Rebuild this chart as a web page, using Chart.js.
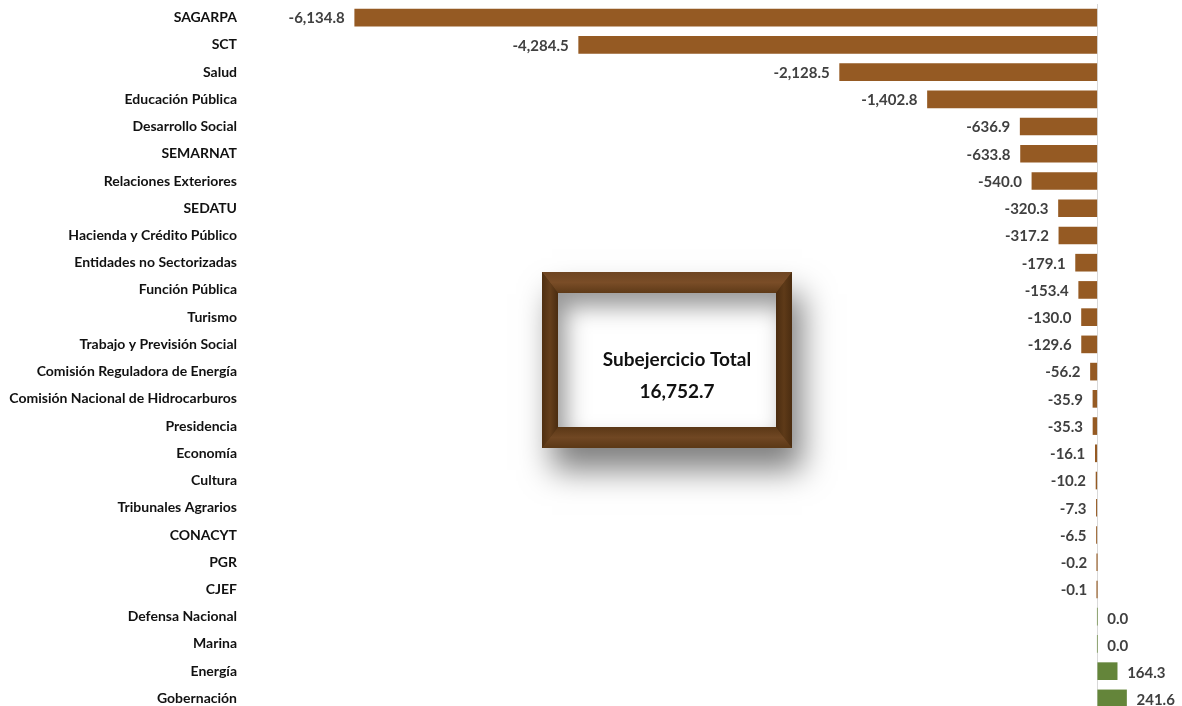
<!DOCTYPE html>
<html>
<head>
<meta charset="utf-8">
<script src="https://cdn.jsdelivr.net/npm/chart.js@4/dist/chart.umd.min.js"></script>
<style>
  html, body { margin: 0; padding: 0; background: #fff; overflow: hidden; }
  canvas { display: block; }
</style>
</head>
<body>
<canvas id="grafico" width="1182" height="712"></canvas>
<script>
document.addEventListener("DOMContentLoaded", function () {

  // === DATOS ===
  const dependencias = [
    "SAGARPA", "SCT", "Salud", "Educación Pública", "Desarrollo Social", "SEMARNAT",
    "Relaciones Exteriores", "SEDATU", "Hacienda y Crédito Público", "Entidades no Sectorizadas",
    "Función Pública", "Turismo", "Trabajo y Previsión Social", "Comisión Reguladora de Energía",
    "Comisión Nacional de Hidrocarburos", "Presidencia", "Economía", "Cultura", "Tribunales Agrarios",
    "CONACYT", "PGR", "CJEF", "Defensa Nacional", "Marina", "Energía", "Gobernación"
  ];
  const variacion = [
    -6134.8, -4284.5, -2128.5, -1402.8, -636.9, -633.8,
    -540.0, -320.3, -317.2, -179.1,
    -153.4, -130.0, -129.6, -56.2,
    -35.9, -35.3, -16.1, -10.2, -7.3,
    -6.5, -0.2, -0.1, 0.0, 0.0, 164.3, 241.6
  ];
  const totalTitulo = "Subejercicio Total";
  const totalValor = "16,752.7";

  const CAFE = "#955a23";
  const VERDE = "#64853a";
  const fuente = "Lato, 'Open Sans', sans-serif";

  const fmt = v => v.toLocaleString("en-US", { minimumFractionDigits: 1, maximumFractionDigits: 1 });

  // === ETIQUETAS DE VALOR ===
  const etiquetas = {
    id: "etiquetas",
    afterDatasetsDraw(chart) {
      const ctx = chart.ctx;
      const meta = chart.getDatasetMeta(0);
      ctx.save();
      ctx.font = "bold 15px " + fuente;
      ctx.fillStyle = "#404040";
      ctx.textBaseline = "middle";
      meta.data.forEach((bar, i) => {
        const v = variacion[i];
        if (v < 0) {
          ctx.textAlign = "right";
          ctx.fillText(fmt(v), bar.x - 10, bar.y + 1);
        } else {
          ctx.textAlign = "left";
          ctx.fillText(fmt(v), bar.x + 10, bar.y + 2);
        }
      });
      ctx.restore();
    }
  };

  // === MARCO CON EL TOTAL ===
  const marco = {
    id: "marco",
    afterDraw(chart) {
      const ctx = chart.ctx;
      const x0 = 542, y0 = 272, x1 = 792, y1 = 448;
      const bx = 16, by = 21;
      const ix0 = x0 + bx, iy0 = y0 + by, ix1 = x1 - bx, iy1 = y1 - by;
      ctx.save();

      // sombra exterior
      ctx.shadowColor = "rgba(0,0,0,0.5)";
      ctx.shadowBlur = 30;
      ctx.shadowOffsetX = 10;
      ctx.shadowOffsetY = 22;
      ctx.fillStyle = "#5a3714";
      ctx.fillRect(x0, y0, x1 - x0, y1 - y0);
      ctx.shadowColor = "transparent";

      function lado(pts, g) {
        ctx.beginPath();
        ctx.moveTo(pts[0][0], pts[0][1]);
        for (let k = 1; k < pts.length; k++) ctx.lineTo(pts[k][0], pts[k][1]);
        ctx.closePath();
        ctx.fillStyle = g;
        ctx.fill();
      }
      let g = ctx.createLinearGradient(0, y0, 0, iy0);
      g.addColorStop(0, "#6e4522"); g.addColorStop(0.5, "#7a4d27"); g.addColorStop(1, "#5e3a18");
      lado([[x0, y0], [x1, y0], [ix1, iy0], [ix0, iy0]], g);
      g = ctx.createLinearGradient(0, iy1, 0, y1);
      g.addColorStop(0, "#5a3716"); g.addColorStop(0.5, "#704723"); g.addColorStop(1, "#5b3816");
      lado([[ix0, iy1], [ix1, iy1], [x1, y1], [x0, y1]], g);
      g = ctx.createLinearGradient(x0, 0, ix0, 0);
      g.addColorStop(0, "#4f2f11"); g.addColorStop(0.5, "#653f1c"); g.addColorStop(1, "#4a2c10");
      lado([[x0, y0], [ix0, iy0], [ix0, iy1], [x0, y1]], g);
      g = ctx.createLinearGradient(ix1, 0, x1, 0);
      g.addColorStop(0, "#4a2c10"); g.addColorStop(0.5, "#5e3a18"); g.addColorStop(1, "#4a2c10");
      lado([[x1, y0], [x1, y1], [ix1, iy1], [ix1, iy0]], g);

      // interior blanco con sombra interna
      ctx.fillStyle = "#ffffff";
      ctx.fillRect(ix0, iy0, ix1 - ix0, iy1 - iy0);
      ctx.beginPath();
      ctx.rect(ix0, iy0, ix1 - ix0, iy1 - iy0);
      ctx.clip();
      ctx.shadowColor = "rgba(0,0,0,0.4)";
      ctx.shadowBlur = 22;
      ctx.shadowOffsetX = 8;
      ctx.shadowOffsetY = 14;
      ctx.beginPath();
      ctx.rect(ix0 - 80, iy0 - 80, ix1 - ix0 + 160, iy1 - iy0 + 160);
      ctx.rect(ix0, iy0, ix1 - ix0, iy1 - iy0);
      ctx.fillStyle = "#000";
      ctx.fill("evenodd");
      ctx.restore();

      // texto
      ctx.save();
      ctx.font = "bold 19px " + fuente;
      ctx.fillStyle = "#111";
      ctx.textAlign = "center";
      ctx.textBaseline = "middle";
      ctx.fillText(totalTitulo, 677, 360);
      ctx.fillText(totalValor, 677, 392);
      ctx.restore();
    }
  };

  new Chart(document.getElementById("grafico").getContext("2d"), {
    type: "bar",
    data: {
      labels: dependencias,
      datasets: [{
        data: variacion,
        backgroundColor: variacion.map(v => v < 0 ? CAFE : VERDE),
        borderWidth: 0,
        barThickness: 17
      }]
    },
    options: {
      indexAxis: "y",
      responsive: false,
      animation: false,
      layout: { padding: { left: 0, right: 0, top: 4, bottom: 0 } },
      plugins: {
        legend: { display: false },
        tooltip: { enabled: false }
      },
      scales: {
        x: {
          min: -7000,
          max: 700,
          afterFit: s => { s.height = 0; s.paddingLeft = 0; s.paddingRight = 0; },
          ticks: { display: false, stepSize: 700 },
          border: { display: false },
          grid: {
            drawTicks: false,
            lineWidth: 1,
            color: c => c.tick && c.tick.value === 0 ? "#d9d9d9" : "transparent"
          }
        },
        y: {
          afterFit: s => { s.width = 250; s.paddingTop = 0; s.paddingBottom = 0; },
          border: { display: false },
          grid: { display: false, drawTicks: false },
          ticks: {
            padding: 13,
            color: "#111",
            font: { family: fuente, size: 14, weight: "bold" }
          }
        }
      }
    },
    plugins: [etiquetas, marco]
  });
});
</script>
</body>
</html>
